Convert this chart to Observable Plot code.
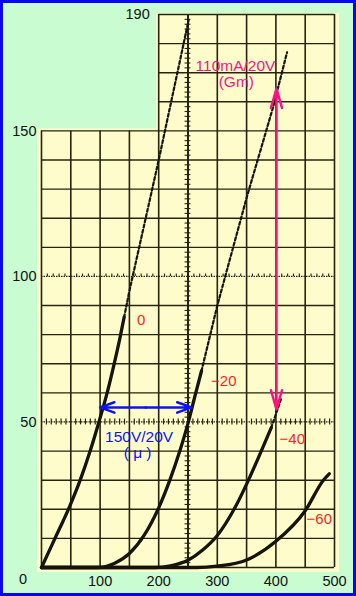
<!DOCTYPE html>
<html><head><meta charset="utf-8">
<script src="https://cdn.jsdelivr.net/npm/d3@7"></script>
<script src="https://cdn.jsdelivr.net/npm/@observablehq/plot@0.6"></script>
<style>
html,body{margin:0;padding:0;background:#c9fcd0;}
#chart{width:356px;height:596px;}
#chart svg{display:block;outline:3px solid #0808f0;outline-offset:-3px;}
</style></head><body><div id="chart"></div>
<script>
// ---- data (plate voltage V, plate current mA) ----
const curve0Solid   = [[0,0],[23,10],[47,20.5],[66,30],[83,40],[98,50],[112,60],[124,70],[134,79],[141,86]];
const curve0Dashed  = [[141,86],[150,95],[200,140],[251,188]];
const curve20Solid  = [[0,0],[95,0],[125,1.5],[150,4.8],[175,11],[200,20.5],[219,30],[236,40],[250,49.5],[262,59],[273,67.5]];
const curve20Dashed = [[273,67.5],[300,90],[350,127],[395,158],[419,177]];
const curve40Solid  = [[0,0],[195,0],[220,0.6],[250,2.5],[275,6],[300,11],[330,20.5],[352,29.5],[375,40],[392,48]];
const curve40Dashed = [[392,48],[409,58]];
const curve60Solid  = [[0,0],[265,0],[300,0.5],[350,2.6],[400,9],[450,19.5],[481,30],[491,32.2]];

const biasLabels = [
  {text: "0",   v: 170, i: 85},
  {text: "−20", v: 311, i: 64},
  {text: "−40", v: 428, i: 44},
  {text: "−60", v: 474, i: 16.7}
];
const xTickLabels = [100, 200, 300, 400, 500];
const yTickLabels = [50, 100, 150];
const topLabel = 190;

// annotations
const muArrow = {v1: 100, v2: 256, i: 55};
const muText  = [{text: "150V/20V", v: 166.6, i: 44.8}, {text: "( μ )", v: 164, i: 39.5}];
const gmArrow = {v: 401, i1: 54.3, i2: 164.5};
const gmText  = [{text: "110mA/20V", v: 331, i: 172.2}, {text: "(Gm)", v: 332.5, i: 166.7}];

// ---- grid structure ----
const vLow  = [0, 50, 100, 150];
const vHigh = [200, 300, 350, 400, 450, 500];
const iFull = d3.range(0, 151, 10).filter(d => d !== 50 && d !== 100);
const iTop  = [160, 170, 180, 190];
const ticks50  = d3.range(0, 500.01, 50/6).filter(d => Math.abs(d/50 - Math.round(d/50)) > 0.01);
const ticks100 = d3.range(0, 501, 10).filter(d => d % 50 !== 0);
const ticks250 = d3.range(0, 190.01, 10/6).filter(d => Math.abs(d/10 - Math.round(d/10)) > 0.01);

const pt = arr => arr.map(([v, i]) => ({v, i}));
const ink = "#26240f";
const font = "'Liberation Sans', Arial, sans-serif";

const plot = Plot.plot({
  width: 356, height: 596,
  marginLeft: 41, marginRight: 22, marginTop: 14, marginBottom: 29,
  x: {domain: [0, 500], axis: null},
  y: {domain: [0, 190], axis: null},
  style: {background: "transparent", fontFamily: font},
  marks: [
    // paper
    Plot.rect([{x1: 0, x2: 500, y1: 0, y2: 150}], {x1: "x1", x2: "x2", y1: "y1", y2: "y2", fill: "#fffccc",
      insetLeft: -4, insetRight: -5, insetBottom: -5, insetTop: -2}),
    Plot.rect([{x1: 200, x2: 500, y1: 150, y2: 190}], {x1: "x1", x2: "x2", y1: "y1", y2: "y2", fill: "#fffccc",
      insetLeft: -2, insetRight: -5, insetTop: -1}),
    // grid
    Plot.ruleX(vLow, {x: d => d, y1: 0, y2: 150, stroke: ink, strokeWidth: 1.6}),
    Plot.ruleX(vHigh, {x: d => d, y1: 0, y2: 190, stroke: ink, strokeWidth: 1.6}),
    Plot.ruleY(iFull, {y: d => d, x1: 0, x2: 500, stroke: ink, strokeWidth: 1.4}),
    Plot.ruleY(iTop, {y: d => d, x1: 200, x2: 500, stroke: ink, strokeWidth: 1.4}),
    // rulers
    Plot.ruleY([50], {y: d => d, x1: 0, x2: 500, stroke: ink, strokeWidth: 1.2, strokeDasharray: "1.5,1"}),
    Plot.ruleX(ticks50, {x: d => d, y1: 49, y2: 51, stroke: ink, strokeWidth: 1.2}),
    Plot.ruleY([100], {y: d => d, x1: 0, x2: 500, stroke: ink, strokeWidth: 1.2, strokeDasharray: "1.5,1"}),
    Plot.ruleX(ticks100, {x: d => d, y1: 100, y2: 100.8, stroke: ink, strokeWidth: 1.1}),
    Plot.ruleX([250], {x: d => d, y1: 0, y2: 190, stroke: ink, strokeWidth: 2}),
    Plot.ruleY(ticks250, {y: d => d, x1: 245, x2: 255, stroke: ink, strokeWidth: 1.1}),
    // characteristic curves
    ...[curve0Solid, curve20Solid, curve40Solid, curve60Solid].map(c =>
      Plot.line(pt(c), {x: "v", y: "i", curve: "monotone-x", stroke: "#15140a", strokeWidth: 3.3, strokeLinecap: "round"})),
    ...[curve0Dashed, curve20Dashed, curve40Dashed].map(c =>
      Plot.line(pt(c), {x: "v", y: "i", curve: "linear", stroke: "#15140a", strokeWidth: 2.2, strokeDasharray: "3,2.4"})),
    // bias labels
    Plot.text(biasLabels, {x: "v", y: "i", text: "text", fill: "#ff1e1e", fontSize: 15, textAnchor: "middle"}),
    // mu annotation
    Plot.arrow([muArrow, muArrow], {x1: d => (d.v1 + d.v2) / 2, y1: "i", x2: (d, k) => k ? d.v2 : d.v1, y2: "i",
      stroke: "#0c14f4", strokeWidth: 2.5, headLength: 10, headAngle: 40}),
    Plot.text(muText, {x: "v", y: "i", text: "text", fill: "#0c14f4", fontSize: 15.5, textAnchor: "middle"}),
    // gm annotation
    Plot.arrow([gmArrow, gmArrow], {x1: "v", y1: d => (d.i1 + d.i2) / 2, x2: "v", y2: (d, k) => k ? d.i2 : d.i1,
      stroke: "#fa1480", strokeWidth: 2.5, headLength: 12, headAngle: 32}),
    Plot.text(gmText, {x: "v", y: "i", text: "text", fill: "#fa1480", fontSize: 15.5, textAnchor: "middle"}),
    // tick labels
    Plot.text(xTickLabels, {x: d => d, y: 0, dy: 14, text: d => String(d), fill: "#111", fontSize: 14.5, textAnchor: "middle"}),
    Plot.text(yTickLabels, {x: 0, y: d => d, dx: -5, text: d => String(d), fill: "#111", fontSize: 14.5, textAnchor: "end"}),
    Plot.text([0], {x: 0, y: 0, dx: -18.5, dy: 12, text: d => String(d), fill: "#111", fontSize: 14.5, textAnchor: "middle"}),
    Plot.text([topLabel], {x: 200, y: d => d, dx: -9, text: d => String(d), fill: "#111", fontSize: 14.5, textAnchor: "end"})
  ]
});
document.getElementById("chart").append(plot);
</script></body></html>
